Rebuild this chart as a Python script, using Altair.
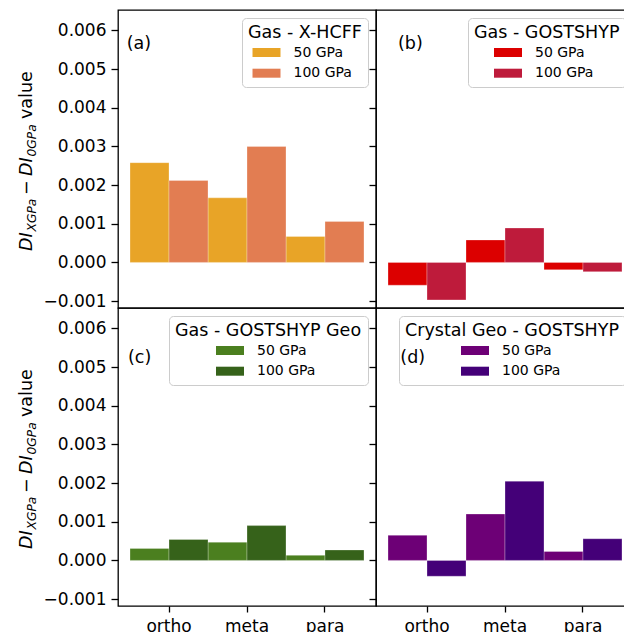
import altair as alt
import pandas as pd

# categories and series
sites = ["ortho", "meta", "para"]
pressures = ["50 GPa", "100 GPa"]

# DI(X GPa) - DI(0 GPa) per site
xhcff_50 = [0.00258, 0.00167, 0.00067]
xhcff_100 = [0.00212, 0.00300, 0.00106]
gost_50 = [-0.00059, 0.00058, -0.00019]
gost_100 = [-0.00097, 0.00089, -0.00024]
gostgeo_50 = [0.00031, 0.00047, 0.00013]
gostgeo_100 = [0.00054, 0.00090, 0.00027]
crystal_50 = [0.00065, 0.00120, 0.00023]
crystal_100 = [-0.00041, 0.00205, 0.00056]

y_ticks = [-0.001, 0.0, 0.001, 0.002, 0.003, 0.004, 0.005, 0.006]
y_domain = [-0.00118, 0.00653]

FONT = "DejaVu Sans"
PANEL_W = 258
PANEL_H = 298

# wide flat swatch for the legend entries
SWATCH = "M-1,-0.643L3,-0.643L3,0.643L-1,0.643Z"


def y_title_layers():
    # axis title built from pieces so the subscripts can be drawn smaller
    pieces = [
        ("DI", 0, 0, 17.5, "italic"),
        ("XGPa", 19.5, 3.6, 12.25, "italic"),
        ("\u2212", 56, 0, 17.5, "normal"),
        ("DI", 75, 0, 17.5, "italic"),
        ("0GPa", 94.5, 3.6, 12.25, "italic"),
        ("value", 132, 0, 17.5, "normal"),
    ]
    one = pd.DataFrame({"k": [0]})
    layers = []
    for txt, dx, dy, size, style in pieces:
        layers.append(
            alt.Chart(one).mark_text(
                text=txt, angle=270, align="left", baseline="alphabetic",
                dx=dx - 90, dy=dy, font=FONT, fontSize=size, fontStyle=style,
                color="black",
            ).encode(x=alt.value(-86), y=alt.value(151))
        )
    return layers


def panel(v50, v100, title, colors, tag, tag_xy, shift, bottom, left):
    df = pd.DataFrame({
        "site": sites * 2,
        "pressure": [pressures[0]] * 3 + [pressures[1]] * 3,
        "value": v50 + v100,
    })
    x_axis = alt.Axis(
        title=None, labelAngle=0, domain=False, ticks=True, tickSize=6,
        tickWidth=1.3, tickColor="black", labelFont=FONT, labelFontSize=17,
        labelColor="black", labelPadding=6,
    ) if bottom else None
    y_axis = alt.Axis(
        title=None, values=y_ticks, format=".3f", domain=False, grid=False,
        tickSize=7, tickWidth=1.3, tickColor="black", labels=left,
        labelFont=FONT, labelFontSize=17, labelColor="black", labelPadding=5,
    )
    bars = alt.Chart(df).mark_bar(
        stroke="white", strokeWidth=0.8, strokeOpacity=0.35
    ).encode(
        x=alt.X("site:N", scale=alt.Scale(domain=sites, paddingInner=0, paddingOuter=0.154), axis=x_axis),
        xOffset=alt.XOffset("pressure:N", scale=alt.Scale(domain=pressures, paddingInner=0, paddingOuter=0)),
        y=alt.Y("value:Q", stack=None, scale=alt.Scale(domain=y_domain, nice=False, zero=False), axis=y_axis),
        color=alt.Color(
            "pressure:N",
            scale=alt.Scale(domain=pressures, range=colors),
            legend=alt.Legend(
                title=title, orient="top-right", offset=8,
                titleFont=FONT, titleFontSize=17.5, titleFontWeight="normal",
                titleColor="black", titleAnchor="start", titlePadding=4,
                titleLimit=600, labelLimit=300,
                labelFont=FONT, labelFontSize=14, labelColor="black",
                symbolType=SWATCH, symbolSize=196, symbolStrokeWidth=0,
                symbolOpacity=1, symbolOffset=shift, labelOffset=27,
                rowPadding=6.7, padding=6, strokeColor="#cccccc",
                cornerRadius=4,
            ),
        ),
    )
    one = pd.DataFrame({"k": [0]})
    label = alt.Chart(one).mark_text(
        text=tag, align="left", baseline="middle", font=FONT, fontSize=17.5,
        color="black",
    ).encode(x=alt.value(tag_xy[0]), y=alt.value(tag_xy[1]))
    layers = [bars, label]
    if left:
        layers += y_title_layers()
    return alt.layer(*layers).properties(width=PANEL_W, height=PANEL_H)


pa = panel(xhcff_50, xhcff_100, "Gas - X-HCFF", ["#e8a427", "#e27d52"],
           "(a)", (8.7, 34), 4.5, False, True)
pb = panel(gost_50, gost_100, "Gas - GOSTSHYP", ["#dc0000", "#be1b3b"],
           "(b)", (22, 34), 20, False, False)
pc = panel(gostgeo_50, gostgeo_100, "Gas - GOSTSHYP Geo", ["#4b7f1f", "#36621a"],
           "(c)", (10, 50), 41, True, True)
pd_ = panel(crystal_50, crystal_100, "Crystal Geo - GOSTSHYP", ["#6d0076", "#440078"],
            "(d)", (24.3, 50), 56, True, False)

# the figure runs past the right and bottom edges; negative padding trims it
chart = alt.concat(
    pa, pb, pc, pd_, columns=2, spacing=0, bounds="flush"
).resolve_scale(
    color="independent"
).configure_view(
    stroke="black", strokeWidth=1.3
).configure_concat(spacing=0).properties(
    padding={"left": 17, "top": 9, "right": -11, "bottom": -3},
    background="white",
)

chart.save("out.html", embed_options={"renderer": "svg", "actions": False})
